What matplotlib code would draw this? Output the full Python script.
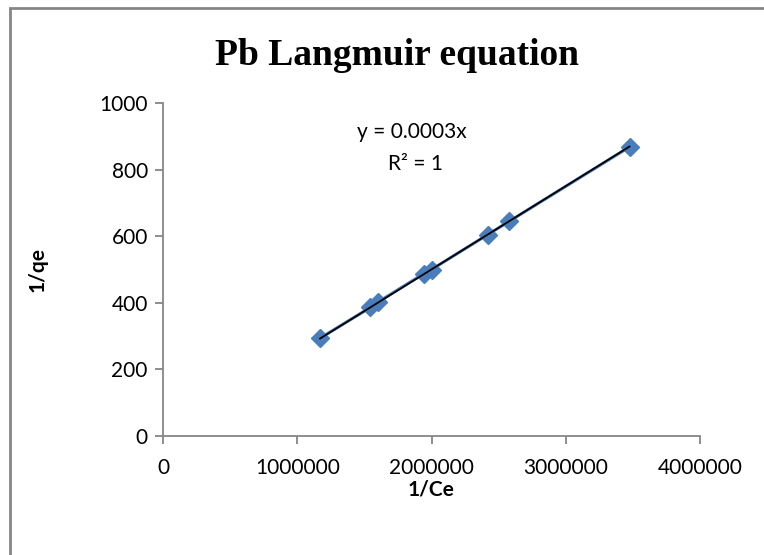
import matplotlib
matplotlib.use('Agg')
import matplotlib.pyplot as plt
import numpy as np
from matplotlib.patches import Rectangle

# data
inv_ce = [1170000, 1545000, 1600000, 1945000, 2000000, 2420000, 2580000, 3475000]
inv_qe = [294, 386, 402, 488, 500, 605, 645, 868]

x_ticks = [0, 1000000, 2000000, 3000000, 4000000]
y_ticks = [0, 200, 400, 600, 800, 1000]

blue = '#4a7ebb'
grey = '#868686'

plt.rcParams['font.family'] = ['Lato', 'DejaVu Sans']

fig = plt.figure(figsize=(7.64, 5.55), dpi=100)
ax = fig.add_axes([0.2134, 0.2144, 0.7028, 0.6])

x = np.array(inv_ce, dtype=float)
y = np.array(inv_qe, dtype=float)

ax.plot(x, y, '-D', color=blue, lw=2.2, ms=9, mec=blue, zorder=2)

# linear trend through the origin
slope = np.sum(x * y) / np.sum(x * x)
xs = np.array([x.min(), x.max()])
ax.plot(xs, slope * xs, color='black', lw=1.3, zorder=3)

ax.set_xlim(0, 4000000)
ax.set_ylim(0, 1000)
ax.set_xticks(x_ticks)
ax.set_yticks(y_ticks)
ax.set_xticklabels([str(v) for v in x_ticks])
ax.set_yticklabels([str(v) for v in y_ticks])

for s in ['top', 'right']:
    ax.spines[s].set_visible(False)
for s in ['left', 'bottom']:
    ax.spines[s].set_color(grey)
    ax.spines[s].set_linewidth(1.3)
ax.tick_params(direction='out', length=6, width=1.3, color=grey,
               labelsize=15, labelcolor='black')
ax.tick_params(axis='x', pad=10)
ax.tick_params(axis='y', pad=5)

ax.set_xlabel('1/Ce', fontsize=15, fontweight='bold', labelpad=1)
ax.set_ylabel('1/qe', fontsize=15, fontweight='bold', labelpad=37)

fig.text(0.519, 0.9, 'Pb Langmuir equation', ha='center', va='center',
         fontsize=27, fontweight='bold', family='Liberation Serif')

ax.text(1850000, 912, 'y = 0.0003x', ha='center', va='center', fontsize=15)
ax.text(1880000, 818, 'R² = 1', ha='center', va='center', fontsize=15)

# chart border
fig.patches.append(Rectangle((9.5 / 764, -0.1), 1.2, 1.1 - 7.5 / 555, transform=fig.transFigure,
                             fill=False, ec=grey, lw=2, zorder=0))

fig.savefig('out.png', dpi=100)
